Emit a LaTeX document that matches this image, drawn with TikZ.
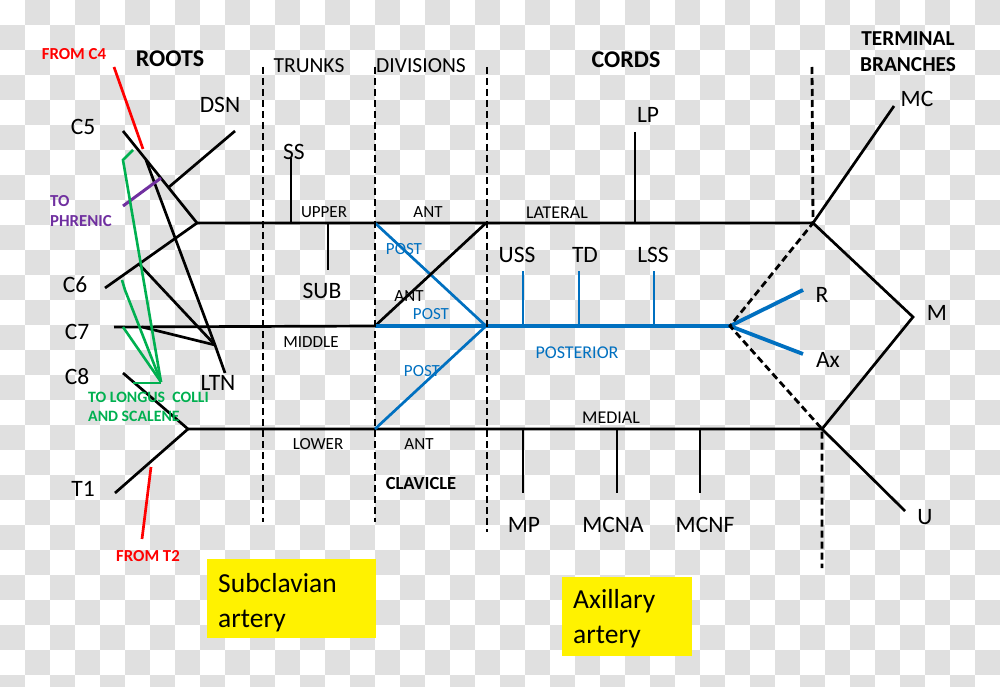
\documentclass[tikz,border=0pt]{standalone}
\usepackage{fontspec}
\setmainfont{Carlito}
\usetikzlibrary{positioning}
\definecolor{nerveblue}{RGB}{0,112,192}
\definecolor{musclegreen}{RGB}{0,176,80}
\definecolor{phrenicpurple}{RGB}{112,48,160}
\definecolor{checkgray}{RGB}{224,224,224}
\tikzset{
  nerve/.style={line width=2.7pt},
  postnerve/.style={line width=3.8pt, draw=nerveblue},
  postdiv/.style={line width=2.7pt, draw=nerveblue},
  levelline/.style={line width=2.8pt, dash pattern=on 7pt off 4pt},
  biglbl/.style={inner sep=0pt, font=\fontsize{23.5}{26}\selectfont},
  smalllbl/.style={inner sep=0pt, font=\fontsize{17}{19}\selectfont},
  cordlbl/.style={inner sep=0pt, font=\fontsize{18}{20}\selectfont},
  colhead/.style={inner sep=0pt, font=\fontsize{21.5}{23}\selectfont},
  boldhead/.style={inner sep=0pt, align=center, font=\bfseries\fontsize{24}{26}\selectfont},
  note/.style={inner sep=0pt, align=left, font=\bfseries\fontsize{16.8}{20}\selectfont},
  arterybox/.style={fill=yellow, align=left, anchor=north west, inner xsep=11pt,
    text width=147pt, minimum height=79pt, font=\fontsize{27.5}{35}\selectfont}
}

\begin{document}
\begin{tikzpicture}[x=1pt,y=-1pt]
\useasboundingbox (0,0) rectangle (1000,687);
% checker background
\fill[white] (0,0) rectangle (1000,687);
\foreach \i in {0,...,39}
  \foreach \j in {0,...,27}{
    \pgfmathtruncatemacro{\odd}{mod(\i+\j,2)}
    \ifnum\odd=1 \fill[checkgray] (\i*25,\j*25) rectangle ++(25,25);\fi
  }

% junctions and ends
\coordinate (up) at (197,223);
\coordinate (low) at (188,429);
\coordinate (c5end) at (123,131);
\coordinate (c6end) at (105,288);
\coordinate (c7end) at (114,327);
\coordinate (c8end) at (123,373);
\coordinate (t1end) at (115,493);
\coordinate (dsnend) at (235,131);
\coordinate (dsnfoot) at (169,187);
\coordinate (ltntop) at (146,160);
\coordinate (ltnc6) at (139,264);
\coordinate (ltnc7) at (142,327);
\coordinate (ltnmeet) at (215,345);
\coordinate (ltnend) at (225,373);
\coordinate (divup) at (375,223);
\coordinate (divmid) at (375,326);
\coordinate (divlow) at (375,429);
\coordinate (cordlat) at (486,223);
\coordinate (cordpost) at (486,326);
\coordinate (latjn) at (813,223);
\coordinate (postjn) at (730,326);
\coordinate (medjn) at (822,429);
\coordinate (mvertex) at (913,317);

% roots
\draw[nerve] (c5end) -- (up) -- (latjn);
\draw[nerve] (c6end) -- (up);
\draw[nerve] (dsnend) -- (dsnfoot);
\draw[nerve] (ltntop) -- (ltnmeet) -- (ltnend);
\draw[nerve] (ltnc6) -- (ltnmeet);
\draw[nerve] (ltnc7) -- (ltnmeet);
\draw[nerve] (c7end) -- (divmid);
\draw[nerve] (c8end) -- (low) -- (medjn);
\draw[nerve] (t1end) -- (low);

% red, purple, green
\draw[red, line width=2.7pt] (114,67) -- (143,149);
\draw[red, line width=2.7pt] (151,467) -- (142,539);
\draw[phrenicpurple, line width=3pt] (123,206) -- (161,178);
\draw[musclegreen, line width=2.6pt] (133,150) -- (123,160) -- (161,382);
\draw[musclegreen, line width=2.6pt] (122,280) -- (125,290) -- (161,382);
\draw[musclegreen, line width=2.6pt] (123,327) -- (161,382);
\draw[musclegreen, line width=2.6pt] (133,383) -- (161,383);

% trunks
\draw[nerve] (291,158) -- (291,223);
\draw[nerve] (328,223) -- (328,270);

% divisions
\draw[postdiv] (divup) -- (cordpost);
\draw[nerve] (divmid) -- (cordlat);
\draw[postdiv] (divlow) -- (cordpost);
\draw[postnerve] (divmid) -- (postjn);

% cords
\draw[nerve] (635,132) -- (635,223);
\foreach \x in {523,579,654}
  \draw[postdiv] (\x,271) -- (\x,326);
\foreach \x in {523,617,700}
  \draw[nerve] (\x,429) -- (\x,493);

% terminal branches
\draw[nerve] (latjn) -- (894,106);
\draw[nerve] (latjn) -- (mvertex) -- (medjn);
\draw[nerve] (medjn) -- (905,511);
\draw[postnerve] (postjn) -- (803,290);
\draw[postnerve] (postjn) -- (803,354);

% level lines
\draw[levelline] (263,67) -- (263,522);
\draw[levelline] (375,67) -- (375,522);
\draw[levelline] (487,67) -- (487,532);
\draw[levelline] (812,67) -- (latjn) -- (postjn) -- (medjn) -- (822,568);

% headers
\node[boldhead] (roots) at (170,59) {ROOTS};
\node[colhead] (trunks) at (309,66) {TRUNKS};
\node[colhead] (divisions) at (421,66) {DIVISIONS};
\node[boldhead] (cords) at (626,60) {CORDS};
\node[boldhead, font=\bfseries\fontsize{21.3}{26}\selectfont] (terminal) at (908,52) {TERMINAL\\BRANCHES};

% roots labels
\node[biglbl] (c5) at (83,127) {C5};
\node[biglbl] (c6) at (75,285) {C6};
\node[biglbl] (c7) at (77,332) {C7};
\node[biglbl] (c8) at (77,377) {C8};
\node[biglbl] (t1) at (83,489) {T1};
\node[biglbl] (dsn) at (220,105) {DSN};
\node[biglbl] (ltn) at (218,383) {LTN};
\node[note, red] (fromc4) at (74,54) {FROM C4};
\node[note, red] (fromt2) at (148,556) {FROM T2};
\node[note, phrenicpurple, anchor=west] (phrenic) at (50,211) {TO\\PHRENIC};
\node[note, musclegreen, anchor=west, font=\bfseries\fontsize{15.8}{19}\selectfont] (longus) at (88,407) {TO LONGUS\ \ COLLI\\AND SCALENE};

% trunk labels
\node[biglbl] (ss) at (294,152) {SS};
\node[biglbl] (sub) at (322,291) {SUB};
\node[smalllbl] (upper) at (324,212) {UPPER};
\node[smalllbl] (middle) at (311,342) {MIDDLE};
\node[smalllbl] (lower) at (318,444) {LOWER};

% division labels
\node[smalllbl] (antup) at (428,212) {ANT};
\node[smalllbl] (antmid) at (409,296) {ANT};
\node[smalllbl] (antlow) at (419,444) {ANT};
\node[smalllbl, nerveblue] (postup) at (404,249) {POST};
\node[smalllbl, nerveblue] (postmid) at (431,314) {POST};
\node[smalllbl, nerveblue] (postlow) at (422,371) {POST};
\node[note, font=\bfseries\fontsize{18.5}{20}\selectfont] (clavicle) at (421,483) {CLAVICLE};

% cord labels
\node[cordlbl] (lateral) at (557,213) {LATERAL};
\node[cordlbl, nerveblue] (posterior) at (577,353) {POSTERIOR};
\node[cordlbl] (medial) at (611,418) {MEDIAL};
\node[biglbl] (lp) at (648,115) {LP};
\node[biglbl] (uss) at (517,255) {USS};
\node[biglbl] (td) at (585,255) {TD};
\node[biglbl] (lss) at (653,255) {LSS};
\node[biglbl] (mp) at (524,525) {MP};
\node[biglbl] (mcna) at (613,525) {MCNA};
\node[biglbl] (mcnf) at (705,525) {MCNF};

% terminal labels
\node[biglbl] (mc) at (917,99) {MC};
\node[biglbl] (r) at (822,295) {R};
\node[biglbl] (ax) at (828,360) {Ax};
\node[biglbl] (m) at (937,313) {M};
\node[biglbl] (u) at (925,517) {U};

% arteries
\node[arterybox] (subclavian) at (207,559) {\rule{0pt}{27pt}Subclavian\\artery};
\node[arterybox, text width=108pt] (axillary) at (562,577) {\rule{0pt}{23pt}Axillary\\artery};
\end{tikzpicture}
\end{document}
